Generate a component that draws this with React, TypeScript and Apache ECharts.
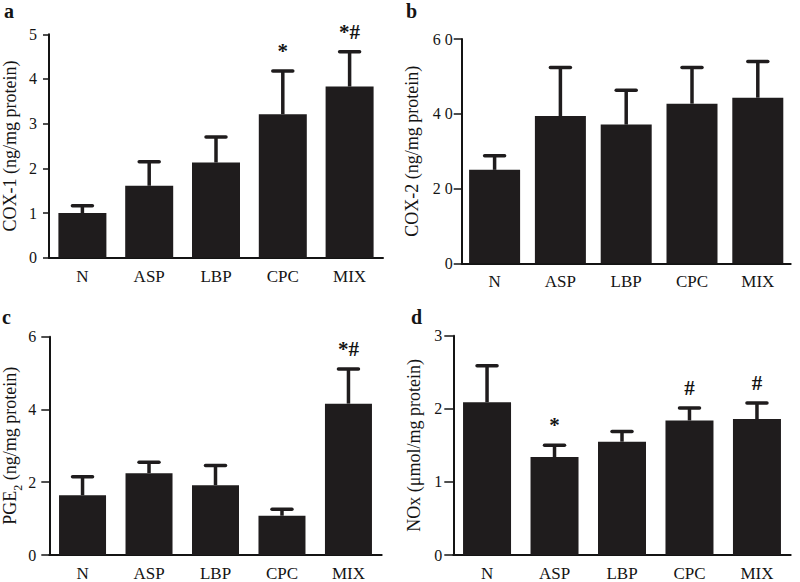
import React, { useEffect, useRef } from "react";
import * as echarts from "echarts";

const categories = ["N", "ASP", "LBP", "CPC", "MIX"];

// Panel a: COX-1
const cox1Mean = [1.0, 1.61, 2.13, 3.21, 3.83];
const cox1Upper = [1.16, 2.15, 2.7, 4.18, 4.61];
const cox1Marks = ["", "", "", "*", "*#"];

// Panel b: COX-2
const cox2Mean = [2.5, 3.94, 3.71, 4.27, 4.43];
const cox2Upper = [2.88, 5.24, 4.63, 5.24, 5.4];
const cox2Marks = ["", "", "", "", ""];
const cox2TickLabels = ["0", "2 0", "4 0", "6 0"];

// Panel c: PGE2
const pgeMean = [1.64, 2.25, 1.92, 1.08, 4.16];
const pgeUpper = [2.15, 2.55, 2.46, 1.26, 5.11];
const pgeMarks = ["", "", "", "", "*#"];

// Panel d: NOx
const noxMean = [2.09, 1.34, 1.55, 1.84, 1.86];
const noxUpper = [2.59, 1.5, 1.69, 2.01, 2.08];
const noxMarks = ["", "*", "", "#", "#"];

const FONT = "'Liberation Serif', 'Times New Roman', serif";
const BAR = "#1f1c1d";
const INK = "#141414";

type Panel = {
  letter: string;
  mean: number[];
  upper: number[];
  marks: string[];
  name: string;
  max: number;
  interval: number;
  grid: { left: number; top: number; width: number; height: number };
  barWidth: number;
  nameGap: number;
  labelMargin: number;
  tickLen: number;
  labelFmt?: (v: number) => string;
  rich?: boolean;
  letterPos: [number, number];
};

const panels: Panel[] = [
  {
    letter: "a",
    mean: cox1Mean,
    upper: cox1Upper,
    marks: cox1Marks,
    name: "COX-1 (ng/mg protein)",
    max: 5,
    interval: 1,
    grid: { left: 45, top: 34.3, width: 338, height: 223.4 },
    barWidth: 48,
    nameGap: 30,
    labelMargin: 12,
    tickLen: 6,
    letterPos: [4, 1],
  },
  {
    letter: "b",
    mean: cox2Mean,
    upper: cox2Upper,
    marks: cox2Marks,
    name: "COX-2 (ng/mg protein)",
    max: 6,
    interval: 2,
    grid: { left: 461.7, top: 39, width: 329, height: 224.3 },
    barWidth: 51,
    nameGap: 41,
    labelMargin: 9,
    tickLen: 8,
    labelFmt: (v: number) => cox2TickLabels[Math.round(v / 2)] ?? "",
    letterPos: [406, 1],
  },
  {
    letter: "c",
    mean: pgeMean,
    upper: pgeUpper,
    marks: pgeMarks,
    name: "PGE{sub|2} (ng/mg protein)",
    max: 6,
    interval: 2,
    grid: { left: 49.3, top: 336.7, width: 332.4, height: 220 },
    barWidth: 47,
    nameGap: 30,
    labelMargin: 13,
    tickLen: 8,
    rich: true,
    letterPos: [2, 307],
  },
  {
    letter: "d",
    mean: noxMean,
    upper: noxUpper,
    marks: noxMarks,
    name: "NOx (μmol/mg protein)",
    max: 3,
    interval: 1,
    grid: { left: 453.3, top: 335.7, width: 337.4, height: 223.6 },
    barWidth: 48,
    nameGap: 30,
    labelMargin: 11,
    tickLen: 9,
    letterPos: [411, 307],
  },
];

export default function App() {
  const ref = useRef<HTMLDivElement>(null);
  useEffect(() => {
    document.body.style.margin = "0";
    if (!ref.current) return;
    const chart = echarts.init(ref.current, undefined, { renderer: "svg" });

    const grids: any[] = [];
    const xAxes: any[] = [];
    const yAxes: any[] = [];
    const series: any[] = [];
    const graphics: any[] = [];

    panels.forEach((p, i) => {
      grids.push({ ...p.grid, containLabel: false });
      xAxes.push({
        type: "category",
        gridIndex: i,
        data: categories,
        axisLine: { lineStyle: { color: INK, width: 2 } },
        axisTick: { show: false },
        axisLabel: { color: INK, fontFamily: FONT, fontSize: 17, margin: 10 },
      });
      yAxes.push({
        type: "value",
        gridIndex: i,
        min: 0,
        max: p.max,
        interval: p.interval,
        name: p.name,
        nameLocation: "middle",
        nameGap: p.nameGap,
        nameRotate: 90,
        nameTextStyle: {
          color: INK,
          fontFamily: FONT,
          fontSize: 18,
          rich: p.rich
            ? {
                sub: {
                  fontFamily: FONT,
                  fontSize: 12,
                  color: INK,
                  verticalAlign: "bottom",
                  padding: [0, 0, -5, 0],
                },
              }
            : undefined,
        },
        splitLine: { show: false },
        axisLine: { show: true, lineStyle: { color: INK, width: 2 } },
        axisTick: { show: true, length: p.tickLen, lineStyle: { color: INK, width: 1.5 } },
        axisLabel: {
          color: INK,
          fontFamily: FONT,
          fontSize: 16,
          margin: p.labelMargin,
          formatter: p.labelFmt ? p.labelFmt : (v: number) => String(v),
        },
      });
      series.push({
        type: "bar",
        xAxisIndex: i,
        yAxisIndex: i,
        data: p.mean,
        barWidth: p.barWidth,
        itemStyle: { color: BAR },
        z: 2,
      });
      const marks = p.marks;
      series.push({
        type: "custom",
        xAxisIndex: i,
        yAxisIndex: i,
        data: p.mean.map((m, k) => [k, m, p.upper[k]]),
        encode: { x: 0, y: [1, 2] },
        z: 3,
        renderItem: (params: any, api: any) => {
          const x = api.value(0);
          const base = api.coord([x, api.value(1)]);
          const top = api.coord([x, api.value(2)]);
          const half = 10;
          const children: any[] = [
            {
              type: "line",
              shape: { x1: base[0], y1: base[1], x2: top[0], y2: top[1] },
              style: { stroke: BAR, lineWidth: 3.5 },
            },
            {
              type: "line",
              shape: { x1: top[0] - half, y1: top[1], x2: top[0] + half, y2: top[1] },
              style: { stroke: BAR, lineWidth: 3.5, lineCap: "round" },
            },
          ];
          const m = marks[params.dataIndex];
          if (m) {
            children.push({
              type: "text",
              x: top[0],
              y: top[1] - 20,
              style: {
                text: m,
                fill: INK,
                font: `bold 21px ${FONT}`,
                align: "center",
                verticalAlign: "middle",
              },
            });
          }
          return { type: "group", children };
        },
      });
      graphics.push({
        type: "text",
        left: p.letterPos[0],
        top: p.letterPos[1],
        style: { text: p.letter, fill: INK, font: `bold 20px ${FONT}` },
      });
    });

    chart.setOption({
      animation: false,
      backgroundColor: "#fff",
      grid: grids,
      xAxis: xAxes,
      yAxis: yAxes,
      series,
      graphic: graphics,
    });
    return () => chart.dispose();
  }, []);
  return <div ref={ref} style={{ width: 800, height: 582 }} />;
}
